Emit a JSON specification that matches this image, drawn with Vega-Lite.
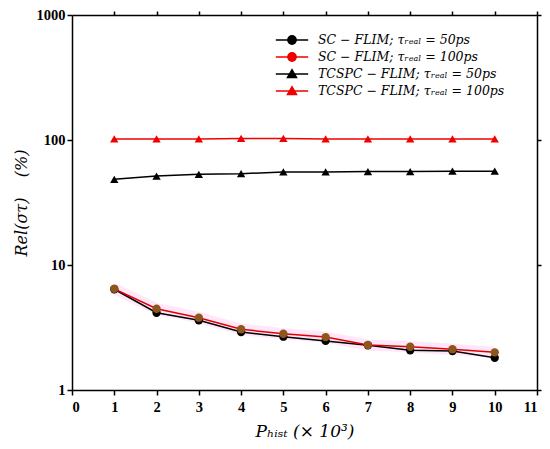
{
  "$schema": "https://vega.github.io/schema/vega-lite/v6.json",
  "width": 465,
  "height": 375,
  "autosize": {"type": "none"},
  "padding": {"left": 72, "top": 15, "right": 13, "bottom": 59},
  "background": "white",
  "config": {
    "view": {"stroke": null},
    "axis": {
      "domainColor": "black",
      "domainWidth": 1.5,
      "tickColor": "black",
      "tickWidth": 1.5,
      "tickSize": 5,
      "grid": false,
      "labelFont": "Liberation Serif",
      "labelFontWeight": "bold",
      "labelFontSize": 14.5,
      "labelColor": "black",
      "titleFont": "DejaVu Serif",
      "titleFontStyle": "italic",
      "titleFontWeight": "normal",
      "titleColor": "black"
    },
    "legend": {
      "orient": "none",
      "legendX": 210,
      "legendY": 15,
      "padding": 0,
      "rowPadding": 0,
      "symbolSize": 324,
      "symbolStrokeWidth": 1.3,
      "symbolOpacity": 1,
      "labelOffset": 16,
      "labelFont": "DejaVu Serif",
      "labelFontStyle": "italic",
      "labelFontSize": 12.5,
      "labelColor": "black",
      "labelLimit": 300
    }
  },
  "data": {
    "values": [
      {"p": 1, "rel": 6.4, "series": "SC − FLIM; τᵣₑₐₗ = 50ps"},
      {"p": 2, "rel": 4.15, "series": "SC − FLIM; τᵣₑₐₗ = 50ps"},
      {"p": 3, "rel": 3.61, "series": "SC − FLIM; τᵣₑₐₗ = 50ps"},
      {"p": 4, "rel": 2.91, "series": "SC − FLIM; τᵣₑₐₗ = 50ps"},
      {"p": 5, "rel": 2.67, "series": "SC − FLIM; τᵣₑₐₗ = 50ps"},
      {"p": 6, "rel": 2.47, "series": "SC − FLIM; τᵣₑₐₗ = 50ps"},
      {"p": 7, "rel": 2.28, "series": "SC − FLIM; τᵣₑₐₗ = 50ps"},
      {"p": 8, "rel": 2.08, "series": "SC − FLIM; τᵣₑₐₗ = 50ps"},
      {"p": 9, "rel": 2.05, "series": "SC − FLIM; τᵣₑₐₗ = 50ps"},
      {"p": 10, "rel": 1.81, "series": "SC − FLIM; τᵣₑₐₗ = 50ps"},
      {"p": 1, "rel": 6.45, "series": "SC − FLIM; τᵣₑₐₗ = 100ps"},
      {"p": 2, "rel": 4.47, "series": "SC − FLIM; τᵣₑₐₗ = 100ps"},
      {"p": 3, "rel": 3.79, "series": "SC − FLIM; τᵣₑₐₗ = 100ps"},
      {"p": 4, "rel": 3.06, "series": "SC − FLIM; τᵣₑₐₗ = 100ps"},
      {"p": 5, "rel": 2.82, "series": "SC − FLIM; τᵣₑₐₗ = 100ps"},
      {"p": 6, "rel": 2.65, "series": "SC − FLIM; τᵣₑₐₗ = 100ps"},
      {"p": 7, "rel": 2.29, "series": "SC − FLIM; τᵣₑₐₗ = 100ps"},
      {"p": 8, "rel": 2.22, "series": "SC − FLIM; τᵣₑₐₗ = 100ps"},
      {"p": 9, "rel": 2.12, "series": "SC − FLIM; τᵣₑₐₗ = 100ps"},
      {"p": 10, "rel": 2.0, "series": "SC − FLIM; τᵣₑₐₗ = 100ps"},
      {"p": 1, "rel": 48.5, "series": "TCSPC − FLIM; τᵣₑₐₗ = 50ps"},
      {"p": 2, "rel": 51.5, "series": "TCSPC − FLIM; τᵣₑₐₗ = 50ps"},
      {"p": 3, "rel": 53.1, "series": "TCSPC − FLIM; τᵣₑₐₗ = 50ps"},
      {"p": 4, "rel": 53.8, "series": "TCSPC − FLIM; τᵣₑₐₗ = 50ps"},
      {"p": 5, "rel": 55.5, "series": "TCSPC − FLIM; τᵣₑₐₗ = 50ps"},
      {"p": 6, "rel": 55.5, "series": "TCSPC − FLIM; τᵣₑₐₗ = 50ps"},
      {"p": 7, "rel": 55.9, "series": "TCSPC − FLIM; τᵣₑₐₗ = 50ps"},
      {"p": 8, "rel": 55.9, "series": "TCSPC − FLIM; τᵣₑₐₗ = 50ps"},
      {"p": 9, "rel": 56.3, "series": "TCSPC − FLIM; τᵣₑₐₗ = 50ps"},
      {"p": 10, "rel": 56.3, "series": "TCSPC − FLIM; τᵣₑₐₗ = 50ps"},
      {"p": 1, "rel": 102, "series": "TCSPC − FLIM; τᵣₑₐₗ = 100ps"},
      {"p": 2, "rel": 102, "series": "TCSPC − FLIM; τᵣₑₐₗ = 100ps"},
      {"p": 3, "rel": 102, "series": "TCSPC − FLIM; τᵣₑₐₗ = 100ps"},
      {"p": 4, "rel": 103, "series": "TCSPC − FLIM; τᵣₑₐₗ = 100ps"},
      {"p": 5, "rel": 103, "series": "TCSPC − FLIM; τᵣₑₐₗ = 100ps"},
      {"p": 6, "rel": 102, "series": "TCSPC − FLIM; τᵣₑₐₗ = 100ps"},
      {"p": 7, "rel": 102, "series": "TCSPC − FLIM; τᵣₑₐₗ = 100ps"},
      {"p": 8, "rel": 102, "series": "TCSPC − FLIM; τᵣₑₐₗ = 100ps"},
      {"p": 9, "rel": 102, "series": "TCSPC − FLIM; τᵣₑₐₗ = 100ps"},
      {"p": 10, "rel": 102, "series": "TCSPC − FLIM; τᵣₑₐₗ = 100ps"}
    ]
  },
  "layer": [
    {
      "transform": [{"filter": "datum.series === 'SC − FLIM; τᵣₑₐₗ = 100ps'"}],
      "mark": {"type": "line", "color": "#ff9be6", "strokeWidth": 11, "opacity": 0.25},
      "encoding": {
        "x": {"field": "p", "type": "quantitative", "scale": {"domain": [0, 11], "nice": false, "zero": false}, "axis": {"values": [0,1,2,3,4,5,6,7,8,9,10,11], "format": "d", "labelPadding": 5, "title": "Pₕᵢₛₜ (× 10³)", "titleFontSize": 17, "titlePadding": 10}},
        "y": {"field": "rel", "type": "quantitative", "scale": {"type": "log", "domain": [1, 1000], "nice": false}, "axis": {"values": [1, 10, 100, 1000], "format": "d", "labelPadding": 2, "title": "Rel(στ)\u00a0\u00a0\u00a0\u00a0(%)", "titleFontSize": 16, "titlePadding": 7}}
      }
    },
    {
      "mark": {"type": "line", "strokeWidth": 1.5},
      "encoding": {
        "x": {"field": "p", "type": "quantitative", "scale": {"domain": [0, 11], "nice": false, "zero": false}, "axis": {"values": [1,2,3,4,5,6,7,8,9,10,11], "format": "d", "labels": true, "labelOpacity": 0, "domain": true, "ticks": true, "tickSize": 4, "title": null}},
        "y": {"field": "rel", "type": "quantitative", "scale": {"type": "log", "domain": [1, 1000], "nice": false}, "axis": {"values": [1, 10, 100, 1000], "labels": false, "domain": true, "ticks": true, "tickSize": 4, "title": null}},
        "color": {
          "field": "series", "type": "nominal", "legend": null,
          "scale": {
            "domain": ["SC − FLIM; τᵣₑₐₗ = 50ps", "SC − FLIM; τᵣₑₐₗ = 100ps", "TCSPC − FLIM; τᵣₑₐₗ = 50ps", "TCSPC − FLIM; τᵣₑₐₗ = 100ps"],
            "range": ["black", "#e00000", "black", "#f00000"]
          }
        }
      }
    },
    {
      "mark": {"type": "point", "filled": true, "opacity": 1},
      "encoding": {
        "x": {"field": "p", "type": "quantitative", "scale": {"domain": [0, 11], "nice": false, "zero": false}, "axis": null},
        "y": {"field": "rel", "type": "quantitative", "scale": {"type": "log", "domain": [1, 1000], "nice": false}, "axis": null},
        "color": {
          "field": "series", "type": "nominal", "legend": null,
          "scale": {
            "domain": ["SC − FLIM; τᵣₑₐₗ = 50ps", "SC − FLIM; τᵣₑₐₗ = 100ps", "TCSPC − FLIM; τᵣₑₐₗ = 50ps", "TCSPC − FLIM; τᵣₑₐₗ = 100ps"],
            "range": ["black", "#8e561c", "black", "#f00000"]
          }
        },
        "shape": {
          "field": "series", "type": "nominal", "legend": null,
          "scale": {
            "domain": ["SC − FLIM; τᵣₑₐₗ = 50ps", "SC − FLIM; τᵣₑₐₗ = 100ps", "TCSPC − FLIM; τᵣₑₐₗ = 50ps", "TCSPC − FLIM; τᵣₑₐₗ = 100ps"],
            "range": ["circle", "circle", "triangle-up", "triangle-up"]
          }
        },
        "size": {"value": 70}
      }
    },
    {
      "mark": {"type": "point", "filled": true, "opacity": 0},
      "encoding": {
        "x": {"field": "p", "type": "quantitative", "scale": {"domain": [0, 11], "nice": false, "zero": false}, "axis": null},
        "y": {"field": "rel", "type": "quantitative", "scale": {"type": "log", "domain": [1, 1000], "nice": false}, "axis": null},
        "fill": {
          "field": "series", "type": "nominal", "title": null,
          "scale": {
            "domain": ["SC − FLIM; τᵣₑₐₗ = 50ps", "SC − FLIM; τᵣₑₐₗ = 100ps", "TCSPC − FLIM; τᵣₑₐₗ = 50ps", "TCSPC − FLIM; τᵣₑₐₗ = 100ps"],
            "range": ["black", "#ee0000", "black", "#ee0000"]
          }
        },
        "stroke": {
          "field": "series", "type": "nominal", "title": null,
          "scale": {
            "domain": ["SC − FLIM; τᵣₑₐₗ = 50ps", "SC − FLIM; τᵣₑₐₗ = 100ps", "TCSPC − FLIM; τᵣₑₐₗ = 50ps", "TCSPC − FLIM; τᵣₑₐₗ = 100ps"],
            "range": ["black", "#ee0000", "black", "#ee0000"]
          }
        },
        "shape": {
          "field": "series", "type": "nominal", "title": null,
          "scale": {
            "domain": ["SC − FLIM; τᵣₑₐₗ = 50ps", "SC − FLIM; τᵣₑₐₗ = 100ps", "TCSPC − FLIM; τᵣₑₐₗ = 50ps", "TCSPC − FLIM; τᵣₑₐₗ = 100ps"],
            "range": [
              "M-1.8,0L1.8,0M-0.47,0A0.47,0.47,0,1,0,0.47,0A0.47,0.47,0,1,0,-0.47,0Z",
              "M-1.8,0L1.8,0M-0.47,0A0.47,0.47,0,1,0,0.47,0A0.47,0.47,0,1,0,-0.47,0Z",
              "M-1.8,0L1.8,0M0,-0.5L0.52,0.4L-0.52,0.4Z",
              "M-1.8,0L1.8,0M0,-0.5L0.52,0.4L-0.52,0.4Z"
            ]
          }
        }
      }
    }
  ],
  "resolve": {
    "scale": {"x": "independent", "y": "independent", "color": "independent", "shape": "independent", "fill": "independent", "stroke": "independent"},
    "axis": {"x": "independent", "y": "independent"}
  }
}
